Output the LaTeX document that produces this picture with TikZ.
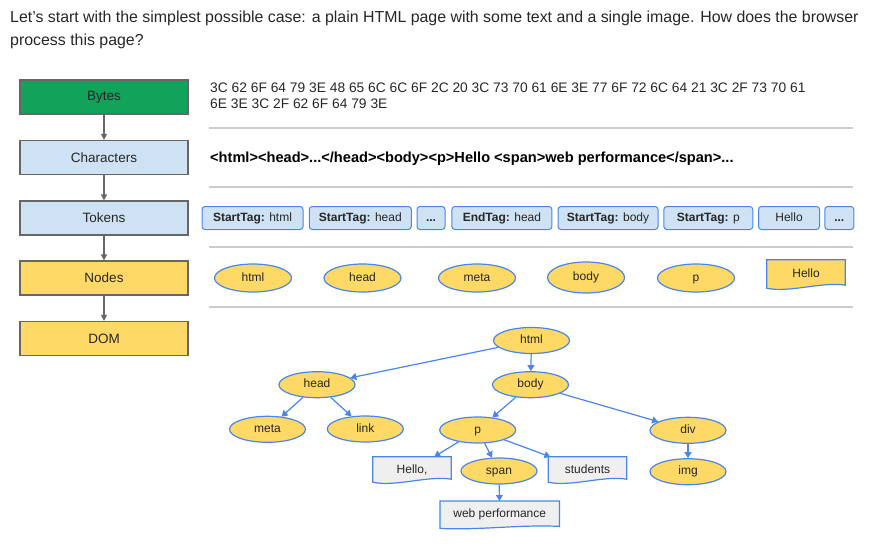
\documentclass[tikz,border=0pt]{standalone}
\usepackage{fontspec}
\setmainfont{Liberation Sans}
\usetikzlibrary{arrows.meta,shapes.geometric,backgrounds}
\definecolor{gborder}{HTML}{666666}
\definecolor{ggreen}{HTML}{12A25A}
\definecolor{lblue}{HTML}{CFE2F3}
\definecolor{gyellow}{HTML}{FFD966}
\definecolor{eblue}{HTML}{4A86E8}
\definecolor{dgray}{HTML}{EFEFEF}
\definecolor{sepc}{HTML}{CCCCCC}
\definecolor{txt}{HTML}{262626}
\newcommand\mydoc[2]{%
  \begin{pgfonlayer}{background}
  \filldraw[draw=eblue, fill=#2, line width=1.2pt]
    (#1.north west) -- (#1.north east) -- ([yshift=5pt]#1.south east)
    .. controls ([xshift=-22pt,yshift=9pt]#1.south east) and ([xshift=22pt,yshift=-3pt]#1.south west)
    .. ([yshift=2pt]#1.south west) -- cycle;
  \end{pgfonlayer}}
\begin{document}
\begin{tikzpicture}[x=1pt,y=-1pt,
  stage/.style={draw=gborder, line width=1.2pt, minimum width=168pt, minimum height=34pt, inner sep=0pt, text=txt, font=\fontsize{13.5}{16}\selectfont},
  stagearrow/.style={draw=gborder, line width=1.2pt, -{Triangle[length=6pt,width=6pt]}},
  tokbox/.style={draw=eblue, fill=lblue, rounded corners=3pt, line width=1pt, minimum height=23pt, inner sep=0pt, text=txt, text height=8.5pt, text depth=2.5pt, font=\fontsize{12}{14}\selectfont},
  ell/.style={ellipse, draw=eblue, fill=gyellow, line width=1.2pt, minimum width=76pt, minimum height=26pt, inner sep=0pt, text=txt, text height=8.5pt, text depth=2.5pt, font=\fontsize{12}{14}\selectfont},
  docnode/.style={rectangle, minimum height=27pt, inner sep=0pt, text=txt, font=\fontsize{12}{14}\selectfont},
  treearrow/.style={draw=eblue, line width=1.2pt, -{Triangle[length=6pt,width=7pt]}},
  sepline/.style={draw=sepc, line width=1.2pt}
]
\useasboundingbox (0,0) rectangle (875,546);

% heading
\node[anchor=north west, inner sep=0pt, align=left, text=txt,
      font=\fontsize{15.9}{23}\selectfont] (intro) at (10,11)
  {Let’s start with the simplest possible case: a plain HTML page with some text and a single image. How does the browser\\
   process this page?};

% stages
\node[stage, fill=ggreen] (bytes) at (104,97) {Bytes};
\node[stage, fill=lblue] (chars) at (104,157.5) {Characters};
\node[stage, fill=lblue] (tokens) at (104,218) {Tokens};
\node[stage, fill=gyellow] (nodes) at (104,278) {Nodes};
\node[stage, fill=gyellow] (dom) at (104,338.5) {DOM};
\draw[stagearrow] (bytes) -- (chars);
\draw[stagearrow] (chars) -- (tokens);
\draw[stagearrow] (tokens) -- (nodes);
\draw[stagearrow] (nodes) -- (dom);

% separators
\coordinate (s1a) at (209,128); \coordinate (s1b) at (853,128);
\coordinate (s2a) at (209,187); \coordinate (s2b) at (853,187);
\coordinate (s3a) at (209,247); \coordinate (s3b) at (853,247);
\coordinate (s4a) at (209,307); \coordinate (s4b) at (853,307);
\draw[sepline] (s1a) -- (s1b);
\draw[sepline] (s2a) -- (s2b);
\draw[sepline] (s3a) -- (s3b);
\draw[sepline] (s4a) -- (s4b);

% bytes text
\node[anchor=north west, inner sep=0pt, align=left, text=txt,
      font=\fontsize{13.8}{16}\selectfont] (bytestext) at (210,83)
  {3C 62 6F 64 79 3E 48 65 6C 6C 6F 2C 20 3C 73 70 61 6E 3E 77 6F 72 6C 64 21 3C 2F 73 70 61\\
   6E 3E 3C 2F 62 6F 64 79 3E};

% characters text
\node[anchor=west, inner sep=0pt, text=black,
      font=\bfseries\fontsize{14.6}{16}\selectfont] (charstext) at (210,158.5)
  {<html><head>...</head><body><p>Hello <span>web performance</span>...};

% tokens
\node[tokbox, minimum width=101pt] (t1) at (252.5,218) {\textbf{StartTag:} html};
\node[tokbox, minimum width=102pt] (t2) at (360.3,218) {\textbf{StartTag:} head};
\node[tokbox, minimum width=28pt] (t3) at (431,218) {\textbf{...}};
\node[tokbox, minimum width=100pt] (t4) at (501.9,218) {\textbf{EndTag:} head};
\node[tokbox, minimum width=100pt] (t5) at (608,218) {\textbf{StartTag:} body};
\node[tokbox, minimum width=89pt] (t6) at (708.3,218) {\textbf{StartTag:} p};
\node[tokbox, minimum width=61pt] (t7) at (789,218) {Hello};
\node[tokbox, minimum width=29pt] (t8) at (839.3,218) {\textbf{...}};

% nodes row
\node[ell, minimum width=77pt, minimum height=28pt] (n1) at (253,278) {html};
\node[ell, minimum width=77pt, minimum height=28pt] (n2) at (362.5,278) {head};
\node[ell, minimum width=77pt, minimum height=28pt] (n3) at (477,278) {meta};
\node[ell, minimum width=77pt, minimum height=31pt] (n4) at (586,277.5) {body};
\node[ell, minimum width=77pt, minimum height=28pt] (n5) at (696,278) {p};
\node[docnode, minimum width=78pt, minimum height=30pt, text depth=0pt] (n6) at (806,275) {\raisebox{3pt}{Hello}};
\mydoc{n6}{gyellow}

% DOM tree
\node[ell] (html) at (531.5,340.5) {html};
\node[ell] (head) at (317,384.7) {head};
\node[ell] (body) at (530.5,384.7) {body};
\node[ell] (meta) at (267.5,429.3) {meta};
\node[ell] (link) at (365.3,429) {link};
\node[ell] (p) at (477.7,430) {p};
\node[ell] (div) at (688,430.3) {div};
\node[docnode, minimum width=78pt] (hello) at (412,470.5) {\raisebox{2pt}{Hello,}};
\node[ell] (span) at (499,471) {span};
\node[docnode, minimum width=78pt] (students) at (587.5,470.5) {\raisebox{2pt}{students}};
\node[ell] (img) at (688,471.7) {img};
\node[docnode, minimum width=119pt, minimum height=27pt] (webperf) at (499.7,514.7) {\raisebox{1pt}{web performance}};
\mydoc{hello}{dgray}
\mydoc{students}{dgray}
\begin{pgfonlayer}{background}
\filldraw[draw=eblue, fill=dgray, line width=1.2pt]
  (webperf.north west) -- (webperf.north east) -- ([yshift=2pt]webperf.south east)
  .. controls ([xshift=-40pt,yshift=4pt]webperf.south east) and ([xshift=40pt,yshift=-2pt]webperf.south west)
  .. (webperf.south west) -- cycle;
\end{pgfonlayer}

\draw[treearrow] (html) -- (head);
\draw[treearrow] (html) -- (body);
\draw[treearrow] (head) -- (meta);
\draw[treearrow] (head) -- (link);
\draw[treearrow] (body) -- (p);
\draw[treearrow] (body) -- (div);
\draw[treearrow] (p) -- (hello);
\draw[treearrow] (p) -- (span);
\draw[treearrow] (p) -- (students);
\draw[treearrow] (div) -- (img);
\draw[treearrow] (span) -- (webperf);
\end{tikzpicture}
\end{document}
